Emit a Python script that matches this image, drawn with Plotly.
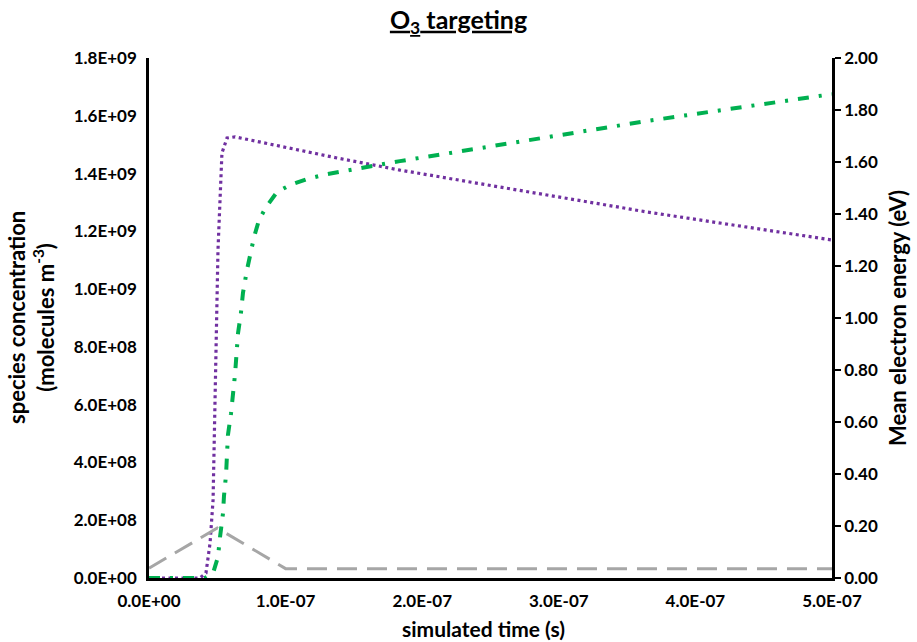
import plotly.graph_objects as go

# ---- data ----
purple_t = [0, 0.373e-7, 0.417e-7, 0.447e-7, 0.469e-7, 0.483e-7, 0.498e-7, 0.505e-7,
            0.534e-7, 0.571e-7, 0.630e-7, 1.376e-7, 1.837e-7, 3.646e-7, 5.0e-7]
purple_v = [0, 0, 0.017e9, 0.121e9, 0.27e9, 0.616e9, 0.962e9, 1.135e9,
            1.471e9, 1.523e9, 1.527e9, 1.454e9, 1.412e9, 1.267e9, 1.170e9]

green_t = [0, 0.41e-7, 0.469e-7, 0.505e-7, 0.520e-7, 0.542e-7, 0.549e-7, 0.564e-7,
           0.578e-7, 0.600e-7, 0.630e-7, 0.652e-7, 0.673e-7, 0.688e-7, 0.717e-7,
           0.739e-7, 0.769e-7, 0.805e-7, 0.857e-7, 0.937e-7, 1.032e-7, 1.157e-7,
           1.303e-7, 1.837e-7, 3.646e-7, 5.0e-7]
green_v = [0, 0, 0.017e9, 0.073e9, 0.142e9, 0.225e9, 0.284e9, 0.357e9,
           0.495e9, 0.568e9, 0.706e9, 0.848e9, 0.917e9, 0.987e9, 1.066e9,
           1.118e9, 1.180e9, 1.239e9, 1.284e9, 1.336e9, 1.360e9, 1.381e9,
           1.398e9, 1.443e9, 1.582e9, 1.675e9]

gray_t = [0, 0.5e-7, 1.0e-7, 5.0e-7]
gray_e = [0.038, 0.192, 0.036, 0.036]

x_tickvals = [0, 1e-7, 2e-7, 3e-7, 4e-7, 5e-7]
x_ticktext = ["0.0E+00", "1.0E-07", "2.0E-07", "3.0E-07", "4.0E-07", "5.0E-07"]
y_tickvals = [0, 2e8, 4e8, 6e8, 8e8, 1e9, 1.2e9, 1.4e9, 1.6e9, 1.8e9]
y_ticktext = ["0.0E+00", "2.0E+08", "4.0E+08", "6.0E+08", "8.0E+08",
              "1.0E+09", "1.2E+09", "1.4E+09", "1.6E+09", "1.8E+09"]
y2_tickvals = [0, 0.2, 0.4, 0.6, 0.8, 1.0, 1.2, 1.4, 1.6, 1.8, 2.0]

FONT = "Lato"
tickfont = dict(family=FONT, size=17, color="black", weight="bold")

PW, PH = 683, 520  # plot area in px

fig = go.Figure()
fig.add_trace(go.Scatter(x=gray_t, y=gray_e, mode="lines", yaxis="y2",
                         line=dict(color="#A6A6A6", width=3, dash="20px,10px"),
                         showlegend=False))
fig.add_trace(go.Scatter(x=purple_t, y=purple_v, mode="lines",
                         line=dict(color="#7030A0", width=3.2, dash="3px,3.5px"),
                         showlegend=False))
fig.add_trace(go.Scatter(x=green_t, y=green_v, mode="lines",
                         line=dict(color="#00B050", width=4, dash="11px,10px,3px,10px"),
                         showlegend=False))

fig.update_layout(
    width=917, height=642,
    margin=dict(l=149, r=85, t=58, b=64),
    paper_bgcolor="white", plot_bgcolor="white",
    title=dict(text="<u>O<sub>3</sub> targeting</u>", x=0.5, xanchor="center",
               y=1 - 20 / 642, yanchor="middle",
               font=dict(family=FONT, size=25, color="black", weight="bold")),
    xaxis=dict(range=[0, 5e-7], tickvals=x_tickvals, ticktext=x_ticktext,
               showgrid=False, zeroline=False, showline=True, linecolor="black",
               linewidth=2.5, ticks="", tickfont=tickfont, ticklabelstandoff=6),
    yaxis=dict(range=[0, 1.8e9], tickvals=y_tickvals, ticktext=y_ticktext,
               showgrid=False, zeroline=False, showline=True, linecolor="black",
               linewidth=2.5, ticks="", tickfont=tickfont, ticklabelstandoff=6),
    yaxis2=dict(range=[0, 2.0], tickvals=y2_tickvals, tickformat=".2f",
                overlaying="y", side="right", showgrid=False, zeroline=False,
                showline=True, linecolor="black", linewidth=2.5,
                ticks="outside", ticklen=6, tickwidth=2, tickcolor="black",
                tickfont=tickfont),
    annotations=[
        dict(text="species concentration<br>(molecules m<sup>-3</sup>)",
             xref="paper", yref="paper", x=(31 - 149) / PW, y=0.5,
             xanchor="center", yanchor="middle", textangle=-90, showarrow=False,
             font=dict(family=FONT, size=22, color="black", weight="bold")),
        dict(text="Mean electron energy (eV)",
             xref="paper", yref="paper", x=(897 - 149) / PW, y=0.5,
             xanchor="center", yanchor="middle", textangle=-90, showarrow=False,
             font=dict(family=FONT, size=22, color="black", weight="bold")),
        dict(text="simulated time (s)",
             xref="paper", yref="paper", x=(483 - 149) / PW, y=-(628 - 578) / PH,
             xanchor="center", yanchor="middle", showarrow=False,
             font=dict(family=FONT, size=21, color="black", weight="bold")),
    ],
)

fig.write_html("out.html", config={"displayModeBar": False},
               post_script="document.body.style.margin='0';document.body.style.padding='0';")
